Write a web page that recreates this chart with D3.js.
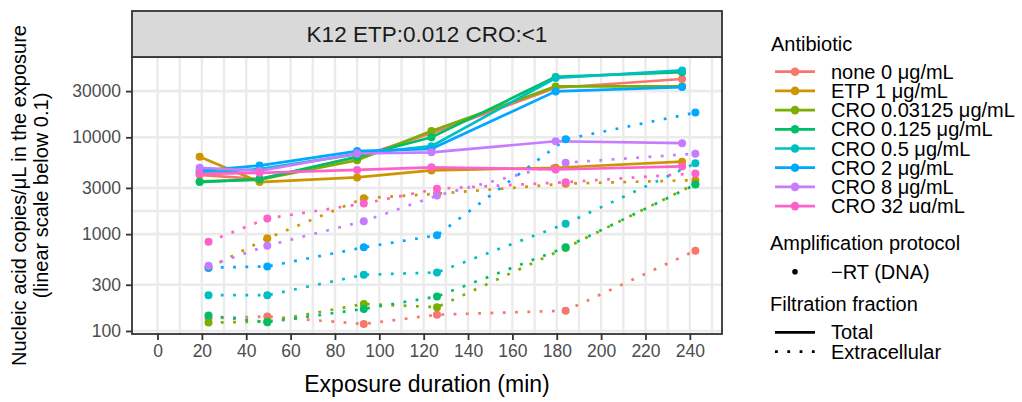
<!DOCTYPE html>
<html>
<head>
<meta charset="utf-8">
<script src="https://cdn.jsdelivr.net/npm/d3@7"></script>
<style>
  body { margin: 0; background: #fff; }
  svg { font-family: "Liberation Sans", Arial, sans-serif; }
</style>
</head>
<body>
<svg id="svg" width="1022" height="402"></svg>
<script>
const WIDTH = 1022
const HEIGHT = 402

const antibiotics = ['none 0 μg/mL', 'ETP 1 μg/mL', 'CRO 0.03125 μg/mL', 'CRO 0.125 μg/mL',
  'CRO 0.5 μg/mL', 'CRO 2 μg/mL', 'CRO 8 μg/mL', 'CRO 32 μg/mL']
const fractions = ['Total', 'Extracellular']

// sampling times (min) of each fraction
const totalTimes = [19, 46, 90, 123.5, 179.5, 236.5]
const extraTimes = [23, 49.5, 93, 126, 184, 242.5]

// copies/uL, one row per antibiotic
const totalValues = [
  [4100, 3700, 6200, 11000, 32500, 40000],
  [6300, 3450, 3850, 4550, 4850, 5600],
  [3500, 3650, 5800, 11600, 33500, 33500],
  [3450, 3700, 6300, 10000, 42000, 47000],
  [4300, 4700, 6700, 8100, 41000, 49000],
  [4500, 5100, 7200, 7600, 29800, 33000],
  [4850, 4500, 6800, 7000, 9100, 8700],
  [4200, 4300, 4600, 4900, 4650, 5000]
]
const extraValues = [
  [135, 141, 118, 147, 162, 675],
  [447, 906, 2350, 2610, 3320, 3610],
  [122, 125, 190, 176, 720, 3300],
  [144, 123, 169, 227, 730, 3250],
  [234, 234, 380, 402, 1280, 5380],
  [450, 463, 730, 972, 9530, 18000],
  [470, 760, 1360, 2500, 5470, 6780],
  [836, 1450, 2070, 2940, 3440, 4240]
]

const xTicks = [0, 20, 40, 60, 80, 100, 120, 140, 160, 180, 200, 220, 240]
const xGrid = [0, 10, 20, 30, 40, 50, 60, 70, 80, 90, 100, 110, 120, 130, 140, 150, 160, 170, 180, 190, 200, 210, 220, 230, 240, 250]
const yTicks = [100, 300, 1000, 3000, 10000, 30000]
const yMinor = [1732]

const stripLabel = 'K12 ETP:0.012 CRO:<1'

const colors = ['#F8766D', '#CD9600', '#7CAE00', '#00BE67', '#00BFC4', '#00A9FF', '#C77CFF', '#FF61CC']

const PANEL = { left: 132, right: 722, top: 57, bottom: 334 }

const x = d3.scaleLinear().domain([-11.5, 254.5]).range([PANEL.left, PANEL.right])
const y = d3.scaleLog().domain([93, 67500]).range([PANEL.bottom, PANEL.top])
const color = d3.scaleOrdinal().domain(antibiotics).range(colors)

const SVG = d3.select('#svg')
SVG.append('rect').attr('width', WIDTH).attr('height', HEIGHT).attr('fill', '#fff')

// grid
const GRID = SVG.append('g')
GRID.selectAll('.vx').data(xGrid).enter().append('line')
  .attr('x1', d => x(d)).attr('x2', d => x(d))
  .attr('y1', PANEL.top).attr('y2', PANEL.bottom)
  .attr('stroke', '#EBEBEB').attr('stroke-width', 2.4)
GRID.selectAll('.hy').data(yTicks.concat(yMinor)).enter().append('line')
  .attr('x1', PANEL.left).attr('x2', PANEL.right)
  .attr('y1', d => y(d)).attr('y2', d => y(d))
  .attr('stroke', '#EBEBEB').attr('stroke-width', 2.6)

// series
const series = []
antibiotics.forEach((ab, i) => {
  series.push({ ab, fraction: 'Total', pts: totalTimes.map((t, j) => [t, totalValues[i][j]]) })
  series.push({ ab, fraction: 'Extracellular', pts: extraTimes.map((t, j) => [t, extraValues[i][j]]) })
})

const line = d3.line().x(d => x(d[0])).y(d => y(d[1]))

const PLOT = SVG.append('g')
PLOT.selectAll('path').data(series).enter().append('path')
  .attr('d', d => line(d.pts))
  .attr('fill', 'none')
  .attr('stroke', d => color(d.ab))
  .attr('stroke-width', 2.7)
  .attr('stroke-dasharray', d => d.fraction === 'Total' ? null : '2.8 9.5')

const points = series.flatMap(s => s.pts.map(p => ({ ab: s.ab, t: p[0], v: p[1] })))
PLOT.selectAll('circle').data(points).enter().append('circle')
  .attr('cx', d => x(d.t)).attr('cy', d => y(d.v))
  .attr('r', 4)
  .attr('fill', d => color(d.ab))

// panel border + strip
SVG.append('rect')
  .attr('x', PANEL.left).attr('y', PANEL.top)
  .attr('width', PANEL.right - PANEL.left).attr('height', PANEL.bottom - PANEL.top)
  .attr('fill', 'none').attr('stroke', '#333333').attr('stroke-width', 1.8)
SVG.append('rect')
  .attr('x', PANEL.left).attr('y', 11)
  .attr('width', PANEL.right - PANEL.left).attr('height', PANEL.top - 11)
  .attr('fill', '#D9D9D9').attr('stroke', '#333333').attr('stroke-width', 1.8)
SVG.append('text')
  .attr('x', (PANEL.left + PANEL.right) / 2).attr('y', 42)
  .attr('text-anchor', 'middle').attr('font-size', 22.5).attr('fill', '#1A1A1A')
  .text(stripLabel)

// axes
const X_AXIS = SVG.append('g')
  .attr('transform', `translate(0, ${PANEL.bottom})`)
  .call(d3.axisBottom(x).tickValues(xTicks).tickSize(6).tickPadding(5).tickFormat(d3.format('d')))
const Y_AXIS = SVG.append('g')
  .attr('transform', `translate(${PANEL.left}, 0)`)
  .call(d3.axisLeft(y).tickValues(yTicks).tickSize(6).tickPadding(5).tickFormat(d3.format('d')))
;[X_AXIS, Y_AXIS].forEach(ax => {
  ax.select('.domain').remove()
  ax.selectAll('.tick line').attr('stroke', '#333333').attr('stroke-width', 1.8)
  ax.selectAll('.tick text').attr('fill', '#4D4D4D').attr('font-size', 17.5)
    .attr('font-family', '"Liberation Sans", Arial, sans-serif')
})

SVG.append('text')
  .attr('x', (PANEL.left + PANEL.right) / 2).attr('y', 392)
  .attr('text-anchor', 'middle').attr('font-size', 23)
  .text('Exposure duration (min)')
const Y_TITLE = SVG.append('text')
  .attr('transform', `translate(26, ${(PANEL.top + PANEL.bottom) / 2}) rotate(-90)`)
  .attr('text-anchor', 'middle').attr('font-size', 20)
Y_TITLE.append('tspan').attr('x', 0).attr('dy', 0).text('Nucleic acid copies/μL in the exposure')
Y_TITLE.append('tspan').attr('x', 0).attr('dy', 22).text('(linear scale below 0.1)')

// legends
const LEGEND = SVG.append('g')
LEGEND.append('clipPath').attr('id', 'abclip')
  .append('rect').attr('x', 760).attr('y', 0).attr('width', 262).attr('height', 213)

LEGEND.append('text').attr('x', 771).attr('y', 51).attr('font-size', 20).text('Antibiotic')
const AB_ROWS = LEGEND.append('g').attr('clip-path', 'url(#abclip)')
  .selectAll('g').data(antibiotics).enter().append('g')
  .attr('transform', (d, i) => `translate(0, ${71.7 + i * 19.2})`)
AB_ROWS.append('line').attr('x1', 775).attr('x2', 815)
  .attr('stroke', d => color(d)).attr('stroke-width', 2.7)
AB_ROWS.append('circle').attr('cx', 795).attr('r', 4.3).attr('fill', d => color(d))
AB_ROWS.append('text').attr('x', 831).attr('y', 7).attr('font-size', 20).text(d => d)

LEGEND.append('text').attr('x', 770).attr('y', 250).attr('font-size', 20).text('Amplification protocol')
LEGEND.append('circle').attr('cx', 795).attr('cy', 271.7).attr('r', 2.8).attr('fill', '#000')
LEGEND.append('text').attr('x', 831).attr('y', 278.5).attr('font-size', 20).text('\u2212RT (DNA)')

LEGEND.append('text').attr('x', 770).attr('y', 311).attr('font-size', 20).text('Filtration fraction')
const FR_ROWS = LEGEND.selectAll('.fr').data(fractions).enter().append('g')
  .attr('transform', (d, i) => `translate(0, ${332.3 + i * 19.4})`)
FR_ROWS.append('line').attr('x1', 775).attr('x2', 815)
  .attr('stroke', '#000').attr('stroke-width', 2.7)
  .attr('stroke-dasharray', d => d === 'Total' ? null : '2.8 9.5')
FR_ROWS.append('text').attr('x', 831).attr('y', 7).attr('font-size', 20).text(d => d)
</script>
</body>
</html>
